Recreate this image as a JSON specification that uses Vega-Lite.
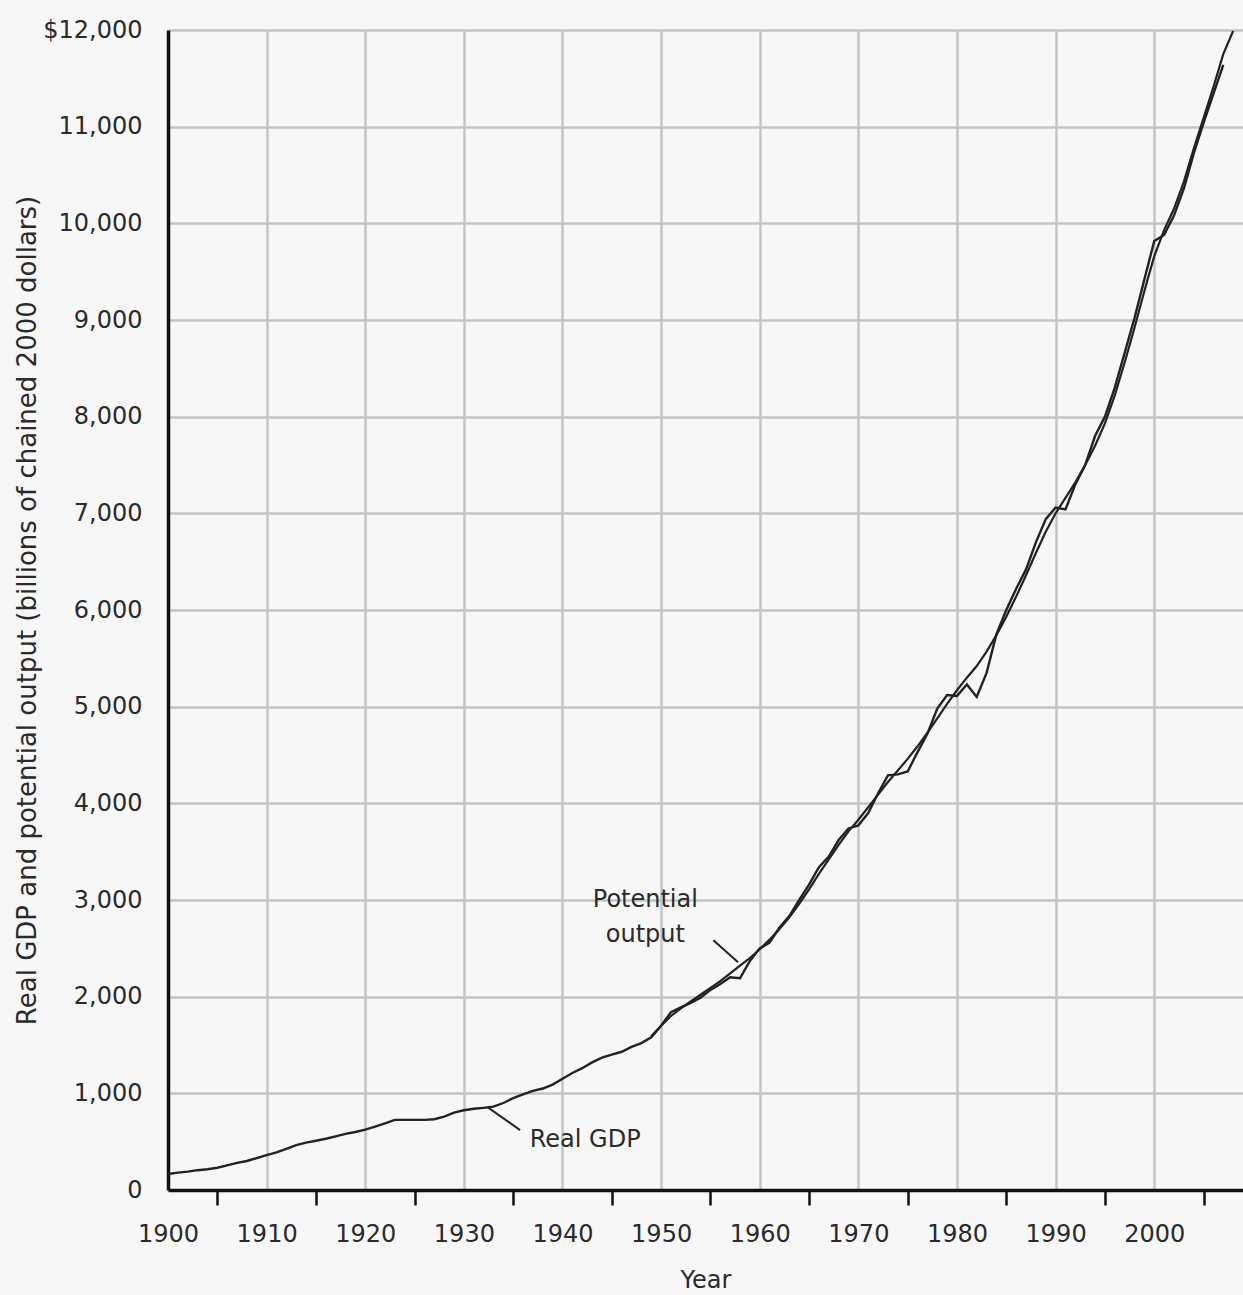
{
  "$schema": "https://vega.github.io/schema/vega-lite/v6.json",
  "autosize": "none",
  "width": 1075,
  "height": 1160,
  "padding": {"left": 168, "top": 30, "right": 0, "bottom": 105},
  "background": "#f7f7f7",
  "config": {
    "view": {"stroke": null},
    "font": "DejaVu Sans",
    "axis": {"labelFont": "DejaVu Sans", "titleFont": "DejaVu Sans", "labelColor": "#2a2a2a", "titleColor": "#2a2a2a", "titleFontWeight": "normal"}
  },
  "datasets": {
    "real": [
      {"year": 1900, "value": 165}, {"year": 1901, "value": 180}, {"year": 1902, "value": 190}, {"year": 1903, "value": 205},
      {"year": 1904, "value": 215}, {"year": 1905, "value": 230}, {"year": 1906, "value": 255}, {"year": 1907, "value": 280},
      {"year": 1908, "value": 300}, {"year": 1909, "value": 330}, {"year": 1910, "value": 360}, {"year": 1911, "value": 390},
      {"year": 1912, "value": 425}, {"year": 1913, "value": 465}, {"year": 1914, "value": 490}, {"year": 1915, "value": 510},
      {"year": 1916, "value": 530}, {"year": 1917, "value": 555}, {"year": 1918, "value": 580}, {"year": 1919, "value": 600},
      {"year": 1920, "value": 625}, {"year": 1921, "value": 655}, {"year": 1922, "value": 690}, {"year": 1923, "value": 725},
      {"year": 1924, "value": 725}, {"year": 1925, "value": 725}, {"year": 1926, "value": 725}, {"year": 1927, "value": 732},
      {"year": 1928, "value": 760}, {"year": 1929, "value": 800}, {"year": 1930, "value": 825}, {"year": 1931, "value": 840},
      {"year": 1932, "value": 850}, {"year": 1933, "value": 862}, {"year": 1934, "value": 900}, {"year": 1935, "value": 950},
      {"year": 1936, "value": 990}, {"year": 1937, "value": 1025}, {"year": 1938, "value": 1050}, {"year": 1939, "value": 1090},
      {"year": 1940, "value": 1150}, {"year": 1941, "value": 1210}, {"year": 1942, "value": 1260}, {"year": 1943, "value": 1320},
      {"year": 1944, "value": 1370}, {"year": 1945, "value": 1400}, {"year": 1946, "value": 1430}, {"year": 1947, "value": 1480},
      {"year": 1948, "value": 1520}, {"year": 1949, "value": 1580}, {"year": 1950, "value": 1700}, {"year": 1951, "value": 1840},
      {"year": 1952, "value": 1890}, {"year": 1953, "value": 1935}, {"year": 1954, "value": 1990}, {"year": 1955, "value": 2070},
      {"year": 1956, "value": 2130}, {"year": 1957, "value": 2200}, {"year": 1958, "value": 2190}, {"year": 1959, "value": 2370},
      {"year": 1960, "value": 2500}, {"year": 1961, "value": 2560}, {"year": 1962, "value": 2715}, {"year": 1963, "value": 2834},
      {"year": 1964, "value": 3000}, {"year": 1965, "value": 3160}, {"year": 1966, "value": 3340}, {"year": 1967, "value": 3450},
      {"year": 1968, "value": 3620}, {"year": 1969, "value": 3740}, {"year": 1970, "value": 3772}, {"year": 1971, "value": 3899},
      {"year": 1972, "value": 4105}, {"year": 1973, "value": 4290}, {"year": 1974, "value": 4300}, {"year": 1975, "value": 4330},
      {"year": 1976, "value": 4530}, {"year": 1977, "value": 4720}, {"year": 1978, "value": 4980}, {"year": 1979, "value": 5120},
      {"year": 1980, "value": 5110}, {"year": 1981, "value": 5230}, {"year": 1982, "value": 5100}, {"year": 1983, "value": 5350},
      {"year": 1984, "value": 5750}, {"year": 1985, "value": 6000}, {"year": 1986, "value": 6220}, {"year": 1987, "value": 6420},
      {"year": 1988, "value": 6700}, {"year": 1989, "value": 6940}, {"year": 1990, "value": 7060}, {"year": 1991, "value": 7040},
      {"year": 1992, "value": 7300}, {"year": 1993, "value": 7500}, {"year": 1994, "value": 7800}, {"year": 1995, "value": 8000},
      {"year": 1996, "value": 8300}, {"year": 1997, "value": 8660}, {"year": 1998, "value": 9020}, {"year": 1999, "value": 9420},
      {"year": 2000, "value": 9817}, {"year": 2001, "value": 9880}, {"year": 2002, "value": 10080}, {"year": 2003, "value": 10360},
      {"year": 2004, "value": 10720}, {"year": 2005, "value": 11040}, {"year": 2006, "value": 11340}, {"year": 2007, "value": 11640}
    ],
    "potential": [
      {"year": 1949, "value": 1590}, {"year": 1950, "value": 1700}, {"year": 1951, "value": 1800}, {"year": 1952, "value": 1880},
      {"year": 1953, "value": 1950}, {"year": 1954, "value": 2020}, {"year": 1955, "value": 2090}, {"year": 1956, "value": 2160},
      {"year": 1957, "value": 2240}, {"year": 1958, "value": 2320}, {"year": 1959, "value": 2400}, {"year": 1960, "value": 2490},
      {"year": 1961, "value": 2590}, {"year": 1962, "value": 2700}, {"year": 1963, "value": 2820}, {"year": 1964, "value": 2960},
      {"year": 1965, "value": 3110}, {"year": 1966, "value": 3270}, {"year": 1967, "value": 3420}, {"year": 1968, "value": 3570},
      {"year": 1969, "value": 3710}, {"year": 1970, "value": 3830}, {"year": 1971, "value": 3960}, {"year": 1972, "value": 4090},
      {"year": 1973, "value": 4220}, {"year": 1974, "value": 4340}, {"year": 1975, "value": 4460}, {"year": 1976, "value": 4590},
      {"year": 1977, "value": 4730}, {"year": 1978, "value": 4880}, {"year": 1979, "value": 5030}, {"year": 1980, "value": 5170},
      {"year": 1981, "value": 5300}, {"year": 1982, "value": 5420}, {"year": 1983, "value": 5570}, {"year": 1984, "value": 5740},
      {"year": 1985, "value": 5930}, {"year": 1986, "value": 6140}, {"year": 1987, "value": 6360}, {"year": 1988, "value": 6590},
      {"year": 1989, "value": 6810}, {"year": 1990, "value": 7000}, {"year": 1991, "value": 7160}, {"year": 1992, "value": 7320},
      {"year": 1993, "value": 7500}, {"year": 1994, "value": 7700}, {"year": 1995, "value": 7930}, {"year": 1996, "value": 8220},
      {"year": 1997, "value": 8560}, {"year": 1998, "value": 8920}, {"year": 1999, "value": 9300}, {"year": 2000, "value": 9660},
      {"year": 2001, "value": 9930}, {"year": 2002, "value": 10150}, {"year": 2003, "value": 10430}, {"year": 2004, "value": 10770},
      {"year": 2005, "value": 11090}, {"year": 2006, "value": 11410}, {"year": 2007, "value": 11750}, {"year": 2008, "value": 11990}
    ],
    "notes": [
      {"year": 1948.4, "value": 3000, "text": ["Potential", "output"]},
      {"year": 1942.3, "value": 517, "text": "Real GDP"}
    ],
    "leaders": [
      {"year": 1955.3, "year2": 1957.8, "value": 2583, "value2": 2355},
      {"year": 1932.4, "year2": 1935.7, "value": 857, "value2": 620}
    ]
  },
  "layer": [
    {
      "data": {"name": "real"},
      "mark": {"type": "line", "color": "#222222", "strokeWidth": 2.4},
      "encoding": {
        "x": {
          "field": "year", "type": "quantitative",
          "scale": {"domain": [1900, 2009], "nice": false, "zero": false},
          "axis": {
            "values": [1900, 1910, 1920, 1930, 1940, 1950, 1960, 1970, 1980, 1990, 2000],
            "format": "d", "ticks": false, "labelPadding": 32, "labelFontSize": 24,
            "labelBaseline": "top", "labelFlush": false, "labelOverlap": false,
            "domainColor": "#111111", "domainWidth": 3.5,
            "grid": true, "gridColor": "#c4c4c4", "gridWidth": 2.5,
            "title": "Year", "titleFontSize": 24, "titlePadding": 22, "orient": "bottom"
          }
        },
        "y": {
          "field": "value", "type": "quantitative",
          "scale": {"domain": [0, 12000], "nice": false},
          "axis": {
            "values": [0, 1000, 2000, 3000, 4000, 5000, 6000, 7000, 8000, 9000, 10000, 11000, 12000],
            "labelExpr": "datum.value == 12000 ? '$12,000' : format(datum.value, ',')",
            "ticks": false, "labelPadding": 26, "labelFontSize": 24, "labelFlush": false,
            "domainColor": "#111111", "domainWidth": 3.5,
            "grid": true, "gridColor": "#c4c4c4", "gridWidth": 2.5,
            "title": "Real GDP and potential output (billions of chained 2000 dollars)",
            "titleFontSize": 26, "titlePadding": 2
          }
        }
      }
    },
    {
      "data": {"name": "potential"},
      "mark": {"type": "line", "color": "#222222", "strokeWidth": 2.2},
      "encoding": {
        "x": {
          "field": "year", "type": "quantitative",
          "axis": {
            "values": [1905, 1915, 1925, 1935, 1945, 1955, 1965, 1975, 1985, 1995, 2005],
            "labels": false, "ticks": true, "tickSize": 15, "tickWidth": 2.5, "tickColor": "#111111",
            "domain": false, "grid": false, "title": null, "orient": "bottom"
          }
        },
        "y": {"field": "value", "type": "quantitative"}
      }
    },
    {
      "data": {"name": "leaders"},
      "mark": {"type": "rule", "color": "#222222", "strokeWidth": 2},
      "encoding": {
        "x": {"field": "year", "type": "quantitative", "axis": null},
        "x2": {"field": "year2"},
        "y": {"field": "value", "type": "quantitative"},
        "y2": {"field": "value2"}
      }
    },
    {
      "data": {"name": "notes"},
      "mark": {"type": "text", "fontSize": 24, "color": "#2a2a2a", "align": "center", "baseline": "middle", "lineHeight": 35},
      "encoding": {
        "x": {"field": "year", "type": "quantitative", "axis": null},
        "y": {"field": "value", "type": "quantitative"},
        "text": {"field": "text"}
      }
    }
  ],
  "resolve": {"axis": {"x": "independent"}}
}
